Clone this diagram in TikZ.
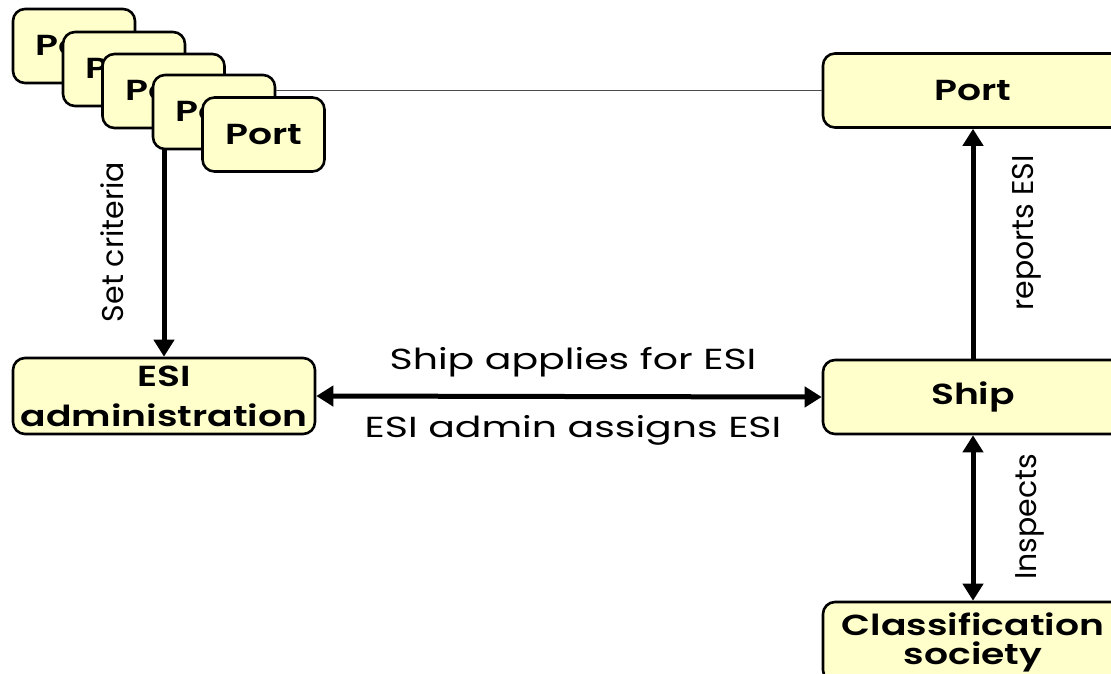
\documentclass[tikz,border=0pt]{standalone}
\usepackage{fontspec}
\setmainfont{Poppins}
\newfontfamily\boxfont{Poppins}[FakeStretch=1.3,BoldFont={Poppins SemiBold},BoldFeatures={FakeStretch=1.3}]
\newfontfamily\widefont{Poppins}[FakeStretch=1.36]
\usetikzlibrary{arrows.meta}
\definecolor{boxfill}{RGB}{255,255,204}
\tikzset{
  unit/.style={x=1pt,y=-1pt},
  entity/.style={draw=black,line width=2.6pt,fill=boxfill,rounded corners=12pt,
    minimum width=#1,minimum height=74pt,inner sep=0pt,align=center,
    font=\boxfont\bfseries\fontsize{29}{38}\selectfont},
  entity/.default=122pt,
  flow/.style={line width=5pt,-{Triangle[length=17pt,width=20pt]}},
  twoway/.style={line width=5pt,{Triangle[length=17pt,width=20pt]}-{Triangle[length=17pt,width=20pt]}},
  sidelbl/.style={font=\fontsize{30}{32}\selectfont,inner sep=0pt,rotate=90},
  lbl/.style={font=\widefont\fontsize{29}{32}\selectfont,inner sep=0pt},
}
\begin{document}
\begin{tikzpicture}[unit]
\useasboundingbox (0,0) rectangle (1111,673);
\clip (0,0) rectangle (1111,673);
% stacked port authorities
\node[entity] (p1) at (74,46) {Port};
\node[entity] (p2) at (124,69) {Port};
\node[entity] (p3) at (163.5,91) {Port};
\node[entity] (p4) at (214,112) {Port};
\node[entity] (p5) at (263.5,134.5) {Port};
% main actors
\node[entity=300pt] (port) at (973,90.5) {Port};
\node[entity=300pt] (ship) at (973,397) {Ship};
\node[entity=302pt,minimum height=76pt,font=\boxfont\bfseries\fontsize{29}{40}\selectfont] (esi) at (164,396) {ESI\\administration};
\node[entity=300pt,minimum height=80pt,font=\boxfont\bfseries\fontsize{29}{29}\selectfont] (cls) at (973,642) {Classification\\society};
% connectors
\draw[line width=1.2pt,black!70] (port.west) -- (port.west -| p4.east);
\draw[flow] (esi.north |- p4.south) -- (esi.north);
\draw[twoway] (esi.east) -- (ship.west);
\draw[flow] (ship.north) -- (port.south);
\draw[twoway] (ship.south) -- (cls.north);
% labels
\node[sidelbl] (l1) at (112,242) {Set criteria};
\node[sidelbl] (l2) at (1027,233) {reports ESI};
\node[sidelbl] (l3) at (1030,517) {Inspects};
\node[lbl] (l4) at (573,362) {Ship applies for ESI};
\node[lbl] (l5) at (573,430) {ESI admin assigns ESI};
\end{tikzpicture}
\end{document}
